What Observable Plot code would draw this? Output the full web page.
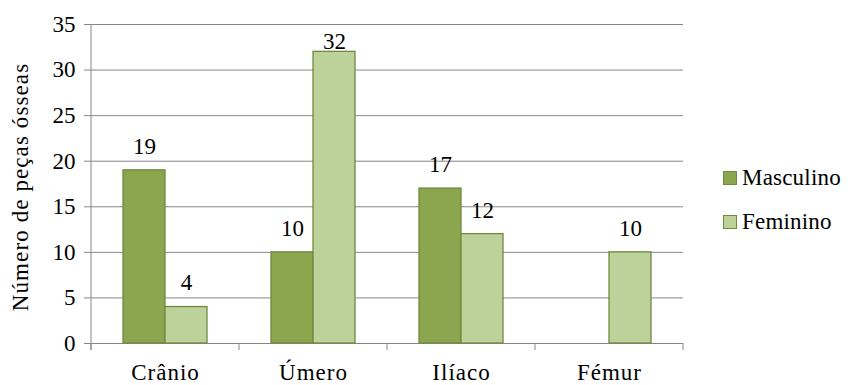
<!DOCTYPE html>
<html>
<head>
<meta charset="utf-8">
<script src="https://cdn.jsdelivr.net/npm/d3@7"></script>
<script src="https://cdn.jsdelivr.net/npm/@observablehq/plot@0.6"></script>
<style>
  body { margin: 0; background: #fff; }
  #chart { position: relative; width: 856px; height: 385px; font-family: "Liberation Serif", "Times New Roman", Times, serif; }
  #chart svg text { font-family: "Liberation Serif", "Times New Roman", Times, serif; font-size: 23px; fill: #000; }
  .legend-item { position: absolute; left: 723px; height: 26px; display: flex; align-items: center; font-size: 23px; color: #000; letter-spacing: 0.2px; }
  .legend-item .swatch { width: 12px; height: 12px; border: 1px solid #6E8B3D; margin-right: 5px; }
</style>
</head>
<body>
<div id="chart"></div>
<script>
// Peças ósseas por região anatómica e sexo
const categories = ["Crânio", "Úmero", "Ilíaco", "Fémur"];
const series = ["Masculino", "Feminino"];
const masculino = [19, 10, 17, null];
const feminino = [4, 32, 12, 10];
const yTicks = [0, 5, 10, 15, 20, 25, 30, 35];
const fills = ["#8BA64E", "#BCD29A"];
const barStroke = "#6E8B3D";
const gridColor = "#868686";
const yTitle = "Número de peças ósseas";
const serifFont = '"Liberation Serif", "Times New Roman", Times, serif';

const rows = categories.flatMap((c, i) => [
  {category: c, series: series[0], value: masculino[i]},
  {category: c, series: series[1], value: feminino[i]}
]).filter(d => d.value != null);

const male = rows.filter(d => d.series === series[0]);
const female = rows.filter(d => d.series === series[1]);

// y axis line and the category boundary ticks under the baseline
function frameTicks(index, scales) {
  const {x, y} = scales;
  const bw = typeof x.bandwidth === "function" ? x.bandwidth() : x.bandwidth;
  const edges = categories.map(c => x(c)).concat([x(categories[categories.length - 1]) + bw]);
  const g = d3.create("svg:g").attr("stroke", gridColor).attr("stroke-width", 1);
  const y0 = y(0), yTop = y(yTicks[yTicks.length - 1]);
  g.append("line").attr("x1", edges[0]).attr("x2", edges[0]).attr("y1", yTop).attr("y2", y0 + 7);
  for (const e of edges) {
    g.append("line").attr("x1", e).attr("x2", e).attr("y1", y0).attr("y2", y0 + 7);
  }
  return g.node();
}

const labelOpts = {x: "category", y: "value", text: d => String(d.value), fontSize: 23, fontFamily: serifFont};

const plot = Plot.plot({
  width: 856,
  height: 385,
  marginLeft: 91,
  marginRight: 173,
  marginTop: 24,
  marginBottom: 42,
  style: {background: "#fff", fontSize: "23px", fontFamily: serifFont, color: "#000"},
  x: {domain: categories, padding: 0, label: null, tickSize: 0, tickPadding: 20},
  y: {domain: [0, 35], ticks: yTicks, label: null, tickSize: 0, tickPadding: 16},
  color: {domain: series, range: fills},
  marks: [
    Plot.ruleY(yTicks, {stroke: gridColor, strokeWidth: 1, insetLeft: -7}),
    Plot.barY(male, {x: "category", y: "value", fill: "series", stroke: barStroke, strokeWidth: 1.3, insetLeft: 32, insetRight: 74}),
    Plot.barY(female, {x: "category", y: "value", fill: "series", stroke: barStroke, strokeWidth: 1.3, insetLeft: 74, insetRight: 32}),
    frameTicks,
    Plot.text(male.filter(d => d.value <= 30), {...labelOpts, dx: -21, dy: -24}),
    Plot.text(female.filter(d => d.value <= 30), {...labelOpts, dx: 21, dy: -24}),
    Plot.text(female.filter(d => d.value > 30), {...labelOpts, dx: 21, dy: -10}),
    Plot.text([yTitle], {frameAnchor: "left", textAnchor: "middle", rotate: -90, dx: -71, dy: 3, fontSize: 23, fontFamily: serifFont})
  ]
});

// the axis title and category names are set a little wider
d3.select(plot).selectAll("text")
  .filter(function() { return this.textContent === yTitle; })
  .style("letter-spacing", "1.1px");
d3.select(plot).selectAll("text")
  .filter(function() { return categories.includes(this.textContent); })
  .style("letter-spacing", "1px");

const chart = document.getElementById("chart");
chart.appendChild(plot);

// legend on the right
series.forEach((s, i) => {
  const item = document.createElement("div");
  item.className = "legend-item";
  item.style.top = (165 + i * 44) + "px";
  item.style.fontFamily = serifFont;
  const sw = document.createElement("span");
  sw.className = "swatch";
  sw.style.background = fills[i];
  const label = document.createElement("span");
  label.textContent = s;
  item.appendChild(sw);
  item.appendChild(label);
  chart.appendChild(item);
});
</script>
</body>
</html>
